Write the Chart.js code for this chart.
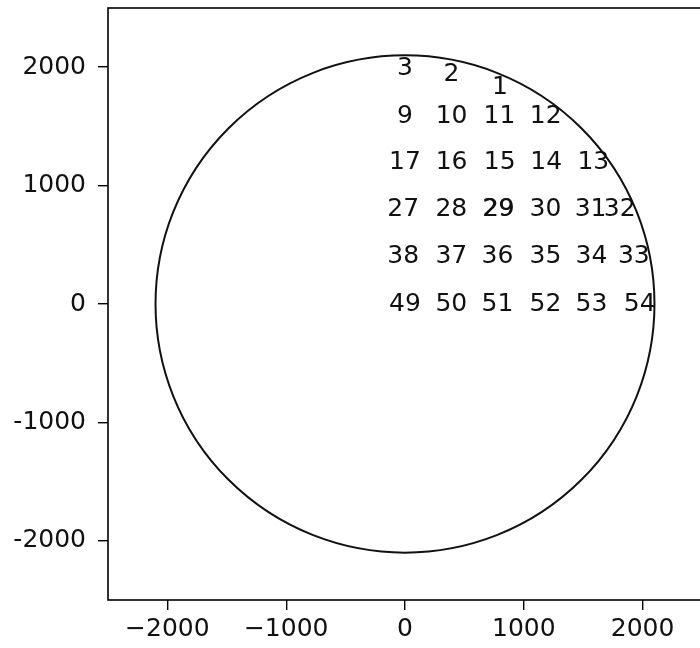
<!DOCTYPE html>
<html>
<head>
<meta charset="utf-8">
<script src="https://cdn.jsdelivr.net/npm/chart.js@4.4.1/dist/chart.umd.min.js"></script>
<style>
  html, body { margin: 0; padding: 0; background: #fff; overflow: hidden; }
  #wrap { width: 710px; height: 648px; }
</style>
</head>
<body>
<div id="wrap"><canvas id="dieChart" width="710" height="648"></canvas></div>
<script>
// die labels and their centres (data units)
const dieLabels = ['3', '2', '1',
  '9', '10', '11', '12',
  '17', '16', '15', '14', '13',
  '27', '28', '29', '29', '30', '31', '32',
  '38', '37', '36', '35', '34', '33',
  '49', '50', '51', '52', '53', '54'];
const dieX = [0, 390, 800,
  0, 392, 795, 1185,
  0, 392, 797, 1188, 1585,
  -15, 390, 785, 790, 1182, 1562, 1807,
  -15, 390, 778, 1182, 1570, 1926,
  0, 390, 778, 1182, 1570, 1975];
const dieY = [1985, 1935, 1825,
  1580, 1580, 1580, 1580,
  1195, 1195, 1195, 1195, 1195,
  800, 800, 800, 800, 800, 800, 800,
  398, 398, 398, 398, 398, 398,
  0, 0, 0, 0, 0, 0];

const waferRadius = 2100;
const xTicks = [-2000, -1000, 0, 1000, 2000];
const yTicks = [-2000, -1000, 0, 1000, 2000];
const yTickLabels = ['-2000', '-1000', '0', '1000', '2000'];

const FONT = 'DejaVu Sans';
const FS = 25;

const points = dieLabels.map((l, i) => ({ x: dieX[i], y: dieY[i], label: l }));

// wafer outline, frame and die numbers
const waferPlugin = {
  id: 'wafer',
  afterDatasetsDraw(chart) {
    const { ctx, chartArea: a, scales: { x, y } } = chart;
    ctx.save();
    ctx.beginPath();
    ctx.rect(a.left, a.top, a.right - a.left, a.bottom - a.top);
    ctx.clip();
    const cx = x.getPixelForValue(0), cy = y.getPixelForValue(0);
    const rx = x.getPixelForValue(waferRadius) - cx;
    const ry = cy - y.getPixelForValue(waferRadius);
    ctx.beginPath();
    ctx.ellipse(cx, cy, rx, ry, 0, 0, Math.PI * 2);
    ctx.lineWidth = 2;
    ctx.strokeStyle = '#111';
    ctx.stroke();

    ctx.fillStyle = '#111';
    ctx.font = FS + 'px "' + FONT + '"';
    ctx.textAlign = 'center';
    ctx.textBaseline = 'middle';
    const meta = chart.getDatasetMeta(0);
    meta.data.forEach((el, i) => {
      ctx.fillText(points[i].label, el.x, el.y);
    });
    ctx.restore();

    ctx.save();
    ctx.lineWidth = 1.6;
    ctx.strokeStyle = '#000';
    ctx.strokeRect(a.left, a.top, a.right - a.left, a.bottom - a.top);
    ctx.restore();
  }
};

new Chart(document.getElementById('dieChart'), {
  type: 'scatter',
  data: {
    datasets: [{
      data: points,
      pointRadius: 0,
      pointHoverRadius: 0,
      showLine: false
    }]
  },
  options: {
    responsive: false,
    animation: false,
    events: [],
    layout: { padding: { left: 0, top: 8, right: 8, bottom: 0 } },
    plugins: { legend: { display: false }, tooltip: { enabled: false } },
    scales: {
      x: {
        type: 'linear',
        min: -2500, max: 2500,
        afterBuildTicks: s => { s.ticks = xTicks.map(v => ({ value: v })); },
        afterFit: s => { s.height = 48; s.paddingLeft = 0; s.paddingRight = 0; },
        grid: { drawOnChartArea: false, drawTicks: true, tickLength: 10, color: '#000', lineWidth: 1.4 },
        border: { display: false },
        ticks: {
          color: '#111', padding: 4, maxRotation: 0,
          font: { family: FONT, size: FS },
          callback: v => v < 0 ? '\u2212' + Math.abs(v) : String(v)
        }
      },
      y: {
        type: 'linear',
        min: -2500, max: 2500,
        afterBuildTicks: s => { s.ticks = yTicks.map(v => ({ value: v })); },
        afterFit: s => { s.width = 108; s.paddingTop = 0; s.paddingBottom = 0; },
        grid: { drawOnChartArea: false, drawTicks: true, tickLength: 10, color: '#000', lineWidth: 1.4 },
        border: { display: false },
        ticks: {
          color: '#111', padding: 12,
          font: { family: FONT, size: FS },
          callback: v => yTickLabels[yTicks.indexOf(v)]
        }
      }
    }
  },
  plugins: [waferPlugin]
});
</script>
</body>
</html>
